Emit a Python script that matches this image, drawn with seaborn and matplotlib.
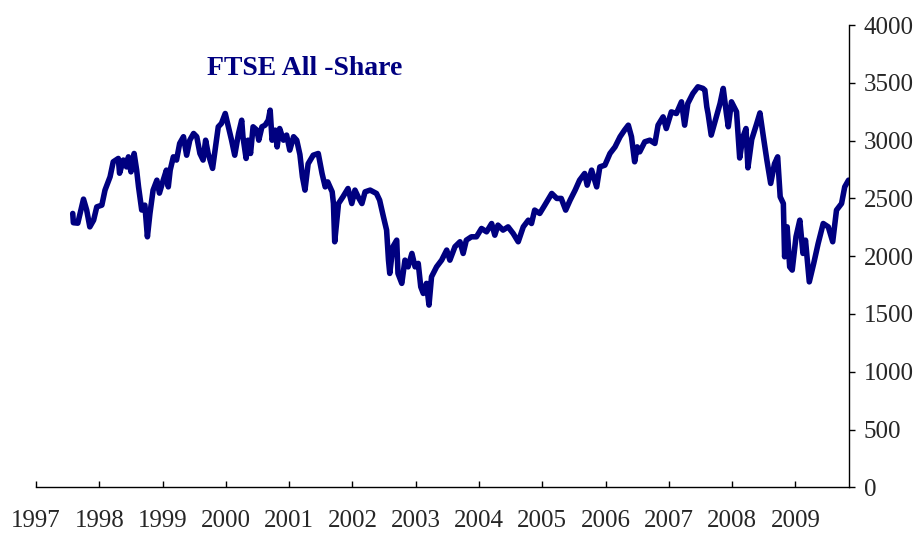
#!/usr/bin/env python
# coding: utf-8
# FTSE All-Share index, 1997-2009

import matplotlib
matplotlib.use("Agg")
import matplotlib.pyplot as plt
import seaborn as sns
import pandas as pd

# decimal year / index level
years = [1997.58, 1997.59, 1997.66, 1997.75, 1997.80, 1997.85, 1997.91, 1997.96,
         1998.04, 1998.09, 1998.17, 1998.22, 1998.30, 1998.32, 1998.38, 1998.43,
         1998.46, 1998.50, 1998.55, 1998.59, 1998.62, 1998.67, 1998.72, 1998.76,
         1998.80, 1998.85, 1998.91, 1998.95, 1999.01, 1999.06, 1999.09, 1999.12,
         1999.17, 1999.22, 1999.27, 1999.33, 1999.38, 1999.43, 1999.49, 1999.54,
         1999.59, 1999.64, 1999.68, 1999.72, 1999.79, 1999.83, 1999.88, 1999.93,
         1999.99, 2000.04, 2000.09, 2000.14, 2000.20, 2000.25, 2000.27, 2000.32,
         2000.35, 2000.39, 2000.43, 2000.49, 2000.52, 2000.57, 2000.62, 2000.67,
         2000.70, 2000.73, 2000.78, 2000.81, 2000.85, 2000.91, 2000.96, 2001.01,
         2001.07, 2001.12, 2001.17, 2001.21, 2001.25, 2001.30, 2001.38, 2001.46,
         2001.52, 2001.57, 2001.61, 2001.68, 2001.70, 2001.72, 2001.78, 2001.85,
         2001.93, 2001.99, 2002.04, 2002.09, 2002.15, 2002.20, 2002.28, 2002.38,
         2002.43, 2002.49, 2002.54, 2002.57, 2002.59, 2002.64, 2002.70, 2002.72,
         2002.78, 2002.83, 2002.88, 2002.94, 2002.99, 2003.04, 2003.08, 2003.12,
         2003.17, 2003.21, 2003.25, 2003.33, 2003.41, 2003.49, 2003.54, 2003.62,
         2003.70, 2003.75, 2003.80, 2003.88, 2003.96, 2004.04, 2004.12, 2004.20,
         2004.25, 2004.30, 2004.38, 2004.46, 2004.54, 2004.62, 2004.70, 2004.78,
         2004.83, 2004.88, 2004.96, 2005.04, 2005.15, 2005.23, 2005.30, 2005.37,
         2005.44, 2005.52, 2005.59, 2005.67, 2005.71, 2005.78, 2005.86, 2005.91,
         2005.99, 2006.07, 2006.15, 2006.23, 2006.30, 2006.36, 2006.41, 2006.46,
         2006.50, 2006.54, 2006.62, 2006.70, 2006.78, 2006.83, 2006.91, 2006.96,
         2007.04, 2007.12, 2007.20, 2007.25, 2007.30, 2007.38, 2007.46, 2007.54,
         2007.57, 2007.60, 2007.62, 2007.67, 2007.75, 2007.81, 2007.86, 2007.91,
         2007.94, 2007.99, 2008.07, 2008.12, 2008.17, 2008.22, 2008.25, 2008.31,
         2008.39, 2008.44, 2008.49, 2008.55, 2008.61, 2008.67, 2008.72, 2008.76,
         2008.81, 2008.83, 2008.87, 2008.91, 2008.95, 2009.01, 2009.07, 2009.12,
         2009.16, 2009.22, 2009.29, 2009.36, 2009.44, 2009.52, 2009.59, 2009.65,
         2009.73, 2009.78, 2009.84]
index_level = [2370, 2290, 2286, 2494, 2400, 2254, 2312, 2427,
               2442, 2572, 2687, 2817, 2846, 2718, 2832, 2773,
               2860, 2730, 2889, 2745, 2600, 2400, 2442, 2168,
               2370, 2572, 2658, 2546, 2658, 2745, 2600, 2745,
               2860, 2832, 2976, 3034, 2874, 3004, 3062, 3034,
               2889, 2832, 3004, 2889, 2760, 2918, 3120, 3149,
               3235, 3120, 3004, 2874, 3062, 3177, 3034, 2846,
               3004, 2889, 3120, 3091, 3004, 3120, 3134, 3177,
               3264, 3004, 3091, 2946, 3105, 3004, 3048, 2918,
               3034, 3004, 2880, 2687, 2572, 2800, 2874, 2889,
               2716, 2600, 2643, 2557, 2456, 2125, 2456, 2514,
               2586, 2456, 2572, 2514, 2456, 2557, 2572, 2543,
               2485, 2341, 2226, 1966, 1851, 2082, 2139, 1851,
               1765, 1966, 1908, 2024, 1908, 1938, 1735, 1678,
               1765, 1577, 1822, 1908, 1966, 2053, 1966, 2082,
               2125, 2024, 2139, 2168, 2168, 2240, 2211, 2283,
               2182, 2269, 2226, 2254, 2197, 2125, 2254, 2312,
               2283, 2399, 2370, 2442, 2543, 2500, 2500, 2399,
               2485, 2572, 2658, 2716, 2615, 2745, 2600, 2773,
               2788, 2889, 2946, 3034, 3091, 3134, 3034, 2817,
               2946, 2903, 2990, 3004, 2976, 3134, 3206, 3105,
               3249, 3235, 3336, 3134, 3322, 3408, 3466, 3452,
               3437, 3293, 3235, 3048, 3206, 3322, 3452, 3235,
               3120, 3336, 3250, 2850, 3030, 3105, 2765, 3010,
               3149, 3240, 3050, 2830, 2630, 2800, 2860, 2514,
               2456, 1995, 2254, 1908, 1880, 2168, 2312, 2024,
               2139, 1778, 1938, 2110, 2283, 2254, 2125, 2399,
               2456, 2600, 2658]

year_ticks = list(range(1997, 2010))
level_ticks = list(range(0, 4001, 500))
title = "FTSE All -Share"

navy = "#000080"

sns.set_style("white")
plt.rcParams['font.family'] = ['Liberation Serif', 'DejaVu Serif']

df = pd.DataFrame({'year': years, 'level': index_level})

fig = plt.figure(figsize=(9.24, 5.34), dpi=100)
ax = fig.add_axes([0.039, 0.0874, 0.880, 0.8656])
sns.lineplot(data=df, x='year', y='level', ax=ax, color=navy,
             linewidth=4.0, estimator=None, sort=False)

ax.set_xlim(1997, 2009.85)
ax.set_ylim(0, 4000)
ax.set_xticks(year_ticks)
ax.set_xticklabels([str(y) for y in year_ticks])
ax.set_yticks(level_ticks)
ax.yaxis.tick_right()
ax.set_xlabel('')
ax.set_ylabel('')

for s in ['left', 'top']:
    ax.spines[s].set_visible(False)
for s in ['right', 'bottom']:
    ax.spines[s].set_color('black')
    ax.spines[s].set_linewidth(1.0)

ax.tick_params(axis='x', direction='in', length=4.5, width=1, color='black',
               labelsize=18, pad=16, bottom=True)
ax.tick_params(axis='y', direction='out', length=4.5, width=1, color='black',
               labelsize=18, pad=6, right=True, left=False)

fig.text(0.33, 0.871, title, ha='center', va='center', fontsize=20,
         fontweight='bold', color=navy)

fig.savefig('out.png', dpi=100)
